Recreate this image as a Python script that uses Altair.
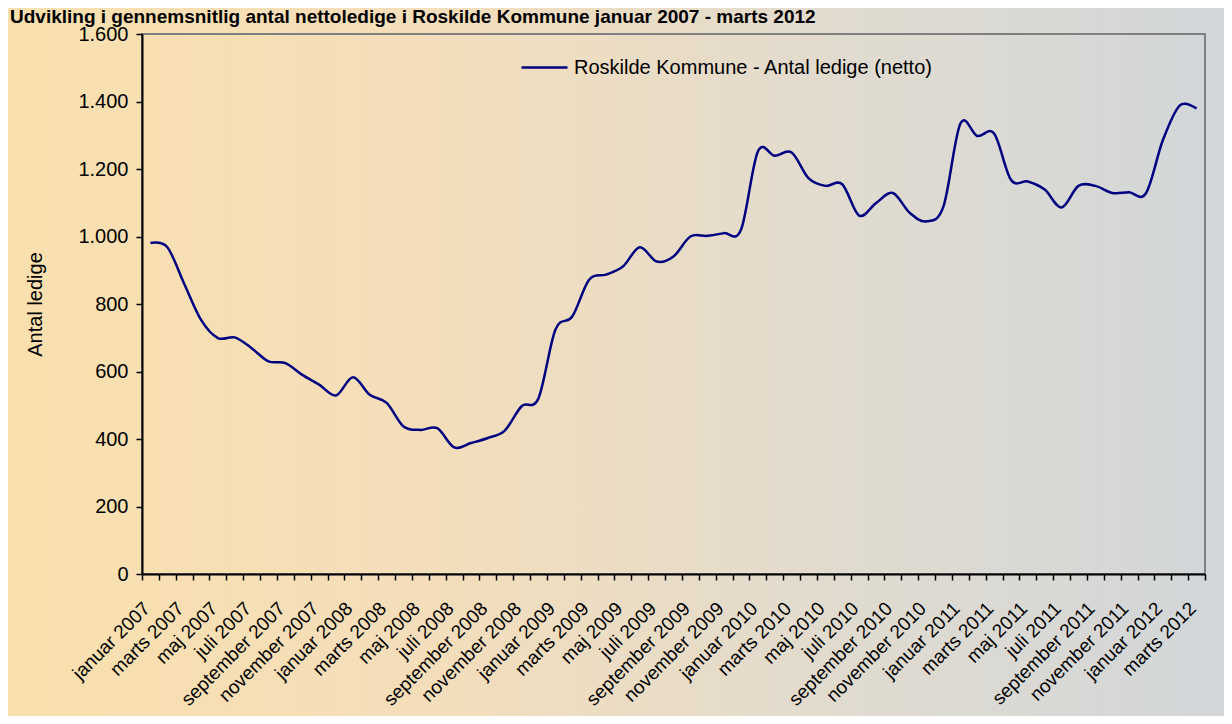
import json
import altair as alt
import pandas as pd

# ---- data -------------------------------------------------------------
maaneder = ["januar", "februar", "marts", "april", "maj", "juni", "juli",
            "august", "september", "oktober", "november", "december"]
months = [f"{m} {y}" for y in range(2007, 2013) for m in maaneder][:63]

values = [981, 968, 860, 753, 699, 701, 669, 630, 625, 590, 561, 529,
          583, 531, 507, 437, 427, 432, 375, 388, 403, 425, 497, 521,
          724, 763, 872, 887, 911, 968, 926, 941, 1000, 1002, 1010, 1020,
          1252, 1239, 1249, 1173, 1150, 1155, 1062, 1099, 1129, 1070, 1045, 1089,
          1334, 1298, 1305, 1168, 1163, 1139, 1086, 1150, 1150, 1129, 1131, 1128,
          1285, 1388, 1379]

series_name = "Roskilde Kommune - Antal ledige (netto)"
title_text = "Udvikling i gennemsnitlig antal nettoledige i Roskilde Kommune januar 2007 - marts 2012"
y_title = "Antal ledige"
y_ticks = [0, 200, 400, 600, 800, 1000, 1200, 1400, 1600]

df = pd.DataFrame({"idx": list(range(len(values))), "month": months,
                   "value": values, "serie": series_name})

# ---- layout -----------------------------------------------------------
W, H = 1063, 540
PAD = {"left": 134, "top": 26, "right": 19, "bottom": 142}
FONT = "Liberation Sans"
n = len(values)
boundaries = [k - 0.5 for k in range(n + 1)]
half = W / n / 2

label_expr = (f"((datum.value + 0.5) % 2 == 0 && datum.value < {n - 1}) ? "
              f"{json.dumps(months)}[datum.value + 0.5] : ''")

gradient = alt.LinearGradient(
    gradient="linear",
    stops=[alt.GradientStop(color="#FAE0AE", offset=0),
           alt.GradientStop(color="#F4DEBB", offset=0.35),
           alt.GradientStop(color="#E0DBD0", offset=0.7),
           alt.GradientStop(color="#D2D6D9", offset=1)],
    x1=0, x2=1, y1=0, y2=0)

one = pd.DataFrame({"a": [0]})

bg = alt.Chart(one).mark_rect(fill=gradient).encode(
    x=alt.value(-PAD["left"]), x2=alt.value(W + PAD["right"]),
    y=alt.value(-PAD["top"]), y2=alt.value(H + PAD["bottom"]))

title = alt.Chart(one).mark_text(
    align="left", baseline="alphabetic", fontSize=19, fontWeight="bold",
    font=FONT, color="#000000").encode(
    x=alt.value(-PAD["left"] + 2), y=alt.value(-11), text=alt.value(title_text))

line = alt.Chart(df).mark_line(strokeWidth=2.5, interpolate="cardinal").encode(
    x=alt.X("idx:Q",
            scale=alt.Scale(domain=[-0.5, n - 0.5], nice=False, zero=False),
            axis=alt.Axis(values=boundaries, labelExpr=label_expr,
                          labelOffset=half - 4, labelAngle=-45,
                          labelAlign="right", labelBaseline="middle",
                          labelPadding=25, labelOverlap=False, labelBound=False,
                          labelFlush=False, labelFontSize=19, tickSize=6,
                          title=None, grid=False, zindex=1)),
    y=alt.Y("value:Q",
            scale=alt.Scale(domain=[0, 1600], nice=False),
            axis=alt.Axis(values=y_ticks,
                          labelExpr="replace(format(datum.value, ','), ',', '.')",
                          title=y_title, titleX=-107, titleY=H / 2,
                          titleAngle=-90, titleAlign="center",
                          titleBaseline="middle", labelPadding=8, tickSize=6,
                          grid=False, zindex=1)),
    color=alt.Color("serie:N", scale=alt.Scale(range=["#000080"]),
                    legend=alt.Legend(title=None, orient="none",
                                      legendX=378, legendY=9,
                                      symbolType="stroke", symbolSize=2116,
                                      symbolStrokeWidth=2.5, labelOffset=5,
                                      labelLimit=0, padding=0)),
)

frame = alt.Chart(one).mark_rect(filled=False, stroke="#808080", strokeWidth=2).encode(
    x=alt.value(0), x2=alt.value(W), y=alt.value(0), y2=alt.value(H))

chart = alt.layer(bg, title, line, frame).properties(
    width=W, height=H,
    autosize=alt.AutoSizeParams(type="none"),
    padding=PAD,
).configure_view(stroke=None).configure_axis(
    labelFont=FONT, titleFont=FONT, labelFontSize=20, titleFontSize=20,
    titleFontWeight="normal", labelColor="#000000", titleColor="#000000",
    domainColor="#000000", domainWidth=2, tickColor="#000000", tickWidth=1.5,
).configure_legend(labelFont=FONT, labelFontSize=20, labelColor="#000000")

chart.save("out.html", embed_options={"renderer": "svg", "actions": False})
